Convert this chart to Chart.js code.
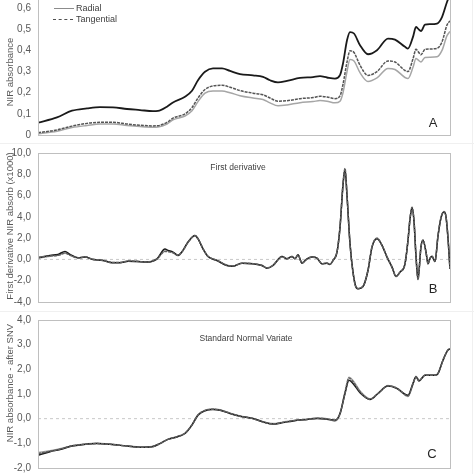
<!DOCTYPE html>
<html>
<head>
<meta charset="utf-8">
<script src="https://cdn.jsdelivr.net/npm/chart.js@4.4.1/dist/chart.umd.min.js"></script>
<style>
  html, body { margin: 0; padding: 0; background: #fff; }
  body { width: 474px; height: 474px; position: relative; overflow: hidden; font-family: "Liberation Sans", Arial, sans-serif; }
  .panel { position: absolute; left: 0; width: 474px; }
  .ytitle { position: absolute; white-space: nowrap; font-size: 9.5px; color: #595959; transform: translate(-50%, -50%) rotate(-90deg); }
  .ptitle { position: absolute; white-space: nowrap; font-size: 8.5px; color: #404040; transform: translate(-50%, -50%); }
  .letter { position: absolute; font-size: 13px; color: #262626; transform: translate(-50%, -50%); }
  .leg { position: absolute; font-size: 9px; color: #404040; white-space: nowrap; transform: translateY(-50%); }
  .legline { position: absolute; width: 20px; height: 0; }
  .sep { position: absolute; background: #f0f0f0; }
</style>
</head>
<body>

<div class="sep" style="left:0; top:143px; width:474px; height:1px;"></div>
<div class="sep" style="left:0; top:311px; width:474px; height:1px;"></div>
<div class="sep" style="left:472px; top:0; width:1px; height:474px;"></div>

<div class="panel" style="top:-21px; height:164px;"><canvas id="chartA"></canvas></div>
<div class="panel" style="top:145px; height:165px;"><canvas id="chartB"></canvas></div>
<div class="panel" style="top:312px; height:164px;"><canvas id="chartC"></canvas></div>

<!-- axis titles -->
<div class="ytitle" style="left:9px; top:72px;">NIR absorbance</div>
<div class="ytitle" style="left:9px; top:226px;">First derivative NIR absorb (x1000)</div>
<div class="ytitle" style="left:9px; top:383px;">NIR absorbance - after SNV</div>

<!-- titles inside the plots -->
<div class="ptitle" style="left:238px; top:167px;">First derivative</div>
<div class="ptitle" style="left:246px; top:338px;">Standard Normal Variate</div>

<div class="letter" style="left:433px; top:122px;">A</div>
<div class="letter" style="left:433px; top:288px;">B</div>
<div class="letter" style="left:432px; top:453px;">C</div>

<!-- legend (first entry is cut by the top edge) -->
<div class="legline" style="left:54px; top:-3px; border-top:1.8px solid #1a1a1a;"></div>
<div class="leg" style="left:76px; top:-4px;">Transversal</div>
<div class="legline" style="left:54px; top:8px; border-top:1.5px solid #8c8c8c;"></div>
<div class="leg" style="left:76px; top:8px;">Radial</div>
<div class="legline" style="left:53px; top:19px; border-top:1.5px dashed #505050;"></div>
<div class="leg" style="left:76px; top:19px;">Tangential</div>

<script>
// Spectra: three wood faces

// ---- Panel A : raw NIR absorbance ----
const posA = [0,19,34,49,62,75,89,102,115,120,129,135,147,154,160,167,175,184,192,202,215,225,232,240,249,262,275,282,289,297,302,305,309,312,316,322,330,339,350,357,367,370,375,378,380,383,387,392,399,404,409,412];
const transA = [0.058,0.083,0.115,0.126,0.132,0.131,0.123,0.118,0.113,0.114,0.134,0.154,0.181,0.209,0.259,0.299,0.315,0.315,0.303,0.288,0.282,0.275,0.259,0.249,0.256,0.270,0.274,0.278,0.272,0.267,0.283,0.338,0.448,0.487,0.480,0.425,0.382,0.401,0.456,0.451,0.417,0.409,0.464,0.511,0.503,0.492,0.522,0.524,0.527,0.558,0.629,0.665];
const tangA = [0.011,0.024,0.042,0.055,0.060,0.060,0.052,0.046,0.043,0.044,0.060,0.080,0.100,0.130,0.175,0.215,0.232,0.235,0.226,0.210,0.198,0.190,0.175,0.160,0.162,0.172,0.177,0.183,0.180,0.172,0.185,0.240,0.345,0.398,0.390,0.330,0.282,0.300,0.350,0.345,0.305,0.300,0.360,0.405,0.395,0.380,0.405,0.407,0.410,0.440,0.520,0.540];
const radA = [0.006,0.018,0.035,0.045,0.052,0.052,0.045,0.040,0.037,0.038,0.052,0.072,0.090,0.115,0.158,0.198,0.208,0.208,0.200,0.186,0.175,0.168,0.152,0.138,0.142,0.153,0.158,0.163,0.160,0.152,0.160,0.200,0.300,0.357,0.350,0.295,0.253,0.270,0.315,0.310,0.272,0.267,0.320,0.362,0.355,0.345,0.367,0.368,0.370,0.400,0.470,0.490];

// ---- Panel B : first derivative (x1000) ----
const posB = [0,12,20,27,32,40,47,55,65,74,82,90,99,109,119,127,130,135,140,145,150,157,160,165,170,179,189,195,204,215,224,229,235,244,249,254,257,260,264,269,274,279,284,289,292,295,299,302,305,307,309,312,315,318,320,325,330,334,339,344,349,354,358,362,367,370,372,374,376,378,380,383,385,388,390,392,394,397,400,403,406,408,410,412];
const transB = [0.16,0.38,0.47,0.75,0.47,0.16,0.22,0.00,-0.10,-0.31,-0.31,-0.16,-0.19,-0.25,0.06,0.97,0.85,0.69,0.38,0.85,1.64,2.26,1.95,1.00,0.28,-0.10,-0.57,-0.63,-0.35,-0.41,-0.57,-0.82,-0.57,0.28,0.06,0.28,0.06,0.44,-0.35,0.06,0.22,0.13,-0.41,-0.35,-0.47,-0.10,0.69,3.00,7.00,8.50,6.00,1.50,-1.20,-2.60,-2.75,-2.55,-1.04,1.16,1.95,1.32,0.22,-0.72,-1.60,-1.19,-0.41,1.80,3.80,4.85,3.60,0.30,-1.85,1.20,1.80,0.70,-0.40,0.10,0.30,-0.20,2.20,3.90,4.45,4.00,2.00,-0.90];
const radB = [0.10,0.30,0.40,0.60,0.42,0.16,0.22,0.00,-0.10,-0.28,-0.30,-0.16,-0.19,-0.25,0.04,0.80,0.78,0.66,0.40,0.85,1.62,2.24,1.95,1.00,0.28,-0.10,-0.57,-0.63,-0.35,-0.41,-0.57,-0.80,-0.57,0.28,0.06,0.28,0.06,0.40,-0.32,0.06,0.22,0.13,-0.41,-0.35,-0.47,-0.10,0.69,3.00,7.00,8.45,6.00,1.50,-1.20,-2.60,-2.75,-2.55,-1.04,1.16,1.98,1.32,0.22,-0.72,-1.60,-1.19,-0.41,1.80,3.80,4.85,3.60,0.30,-1.85,1.20,1.80,0.70,-0.40,0.10,0.30,-0.20,2.20,3.90,4.45,4.00,2.00,-0.90];
const tangB = [0.20,0.32,0.38,0.58,0.40,0.14,0.24,0.02,-0.08,-0.30,-0.30,-0.15,-0.18,-0.24,0.05,0.75,0.72,0.62,0.38,0.84,1.60,2.22,1.93,1.00,0.30,-0.08,-0.55,-0.62,-0.35,-0.40,-0.57,-0.80,-0.55,0.26,0.06,0.26,0.06,0.42,-0.33,0.05,0.20,0.12,-0.40,-0.34,-0.45,-0.08,0.70,3.05,7.10,8.55,6.05,1.45,-1.25,-2.62,-2.75,-2.52,-1.00,1.18,2.00,1.34,0.24,-0.70,-1.58,-1.18,-0.40,1.82,3.85,4.90,3.62,0.28,-1.88,1.22,1.82,0.70,-0.42,0.10,0.30,-0.18,2.25,3.95,4.50,4.02,1.95,-0.95];

// ---- Panel C : after SNV ----
const posC = [0,12,22,34,45,59,72,89,102,114,122,130,139,147,154,160,167,175,182,192,202,215,225,235,245,255,269,279,289,297,302,307,311,315,322,332,340,350,359,367,370,375,378,381,387,397,400,405,410,412];
const transC = [-1.48,-1.34,-1.25,-1.11,-1.05,-1.01,-1.04,-1.11,-1.16,-1.14,-1.01,-0.84,-0.74,-0.60,-0.26,0.14,0.32,0.37,0.34,0.21,0.10,0.01,-0.13,-0.22,-0.16,-0.09,-0.03,0.01,-0.02,-0.06,0.21,1.02,1.56,1.43,1.05,0.78,1.02,1.32,1.22,0.99,0.95,1.43,1.70,1.53,1.76,1.76,1.83,2.37,2.78,2.82];
const radC = [-1.38,-1.30,-1.22,-1.10,-1.04,-1.00,-1.03,-1.10,-1.15,-1.13,-1.00,-0.83,-0.73,-0.58,-0.24,0.16,0.34,0.39,0.36,0.22,0.11,0.01,-0.12,-0.20,-0.14,-0.08,-0.02,0.03,0.00,-0.09,0.18,1.08,1.68,1.55,1.12,0.80,1.03,1.34,1.24,0.96,0.90,1.40,1.72,1.55,1.77,1.77,1.84,2.38,2.80,2.84];
const tangC = [-1.42,-1.32,-1.24,-1.10,-1.05,-1.01,-1.04,-1.11,-1.16,-1.14,-1.01,-0.84,-0.74,-0.59,-0.25,0.15,0.33,0.38,0.35,0.22,0.10,0.00,-0.14,-0.21,-0.15,-0.08,-0.03,0.02,-0.01,-0.08,0.20,1.05,1.65,1.50,1.10,0.79,1.02,1.33,1.23,0.97,0.92,1.42,1.70,1.54,1.76,1.76,1.83,2.37,2.79,2.83];

Chart.defaults.font.family = '"Liberation Sans", Arial, sans-serif';
Chart.defaults.animation = false;

// grey box round the plot area
const boxPlugin = {
  id: 'box',
  afterDraw(chart) {
    const a = chart.chartArea;
    const ctx = chart.ctx;
    ctx.save();
    ctx.strokeStyle = '#bfbfbf';
    ctx.lineWidth = 1;
    ctx.strokeRect(Math.round(a.left) + 0.5, Math.round(a.top) + 0.5, Math.round(a.right - a.left), Math.round(a.bottom - a.top));
    ctx.restore();
  }
};

function toPoints(xs, ys) {
  return xs.map((x, i) => ({ x: x, y: ys[i] }));
}

function zeroLine() {
  return {
    data: [{ x: 0, y: 0 }, { x: 412, y: 0 }],
    borderColor: '#c8c8c8', borderWidth: 1, borderDash: [3, 3], order: 10
  };
}

function makeChart(id, datasets, yMin, yMax, step, fmt) {
  return new Chart(document.getElementById(id), {
    type: 'line',
    data: { datasets: datasets },
    options: {
      responsive: true,
      maintainAspectRatio: false,
      layout: { padding: { left: 0, right: 24, top: 8, bottom: 8 } },
      elements: { point: { radius: 0 }, line: { cubicInterpolationMode: 'monotone', fill: false } },
      plugins: { legend: { display: false }, tooltip: { enabled: false } },
      scales: {
        x: { type: 'linear', min: 0, max: 412, display: false },
        y: {
          min: yMin, max: yMax,
          grid: { display: false, drawTicks: false },
          border: { display: false },
          ticks: { stepSize: step, padding: 7, color: '#595959', font: { size: 10 }, callback: fmt },
          // fixed axis width, and no extra label padding so the plot box lands where we want
          afterFit: s => { s.width = 38; s.paddingTop = 0; s.paddingBottom = 0; }
        }
      }
    },
    plugins: [boxPlugin]
  });
}

const commaFmt = v => v.toFixed(1).replace('.', ',');

makeChart('chartA', [
  { data: toPoints(posA, transA), borderColor: '#1a1a1a', borderWidth: 1.8, order: 1 },
  { data: toPoints(posA, tangA), borderColor: '#555555', borderWidth: 1.5, borderDash: [3, 1], order: 2 },
  { data: toPoints(posA, radA), borderColor: '#a6a6a6', borderWidth: 1.5, order: 3 }
], 0, 0.7, 0.1, v => Math.abs(v) < 1e-9 ? '0' : commaFmt(v));

makeChart('chartB', [
  zeroLine(),
  { data: toPoints(posB, radB), borderColor: '#a6a6a6', borderWidth: 1.5, order: 3 },
  { data: toPoints(posB, transB), borderColor: '#1a1a1a', borderWidth: 1.5, order: 2 },
  { data: toPoints(posB, tangB), borderColor: '#606060', borderWidth: 1.5, borderDash: [3, 1], order: 1 }
], -4, 10, 2, commaFmt);

makeChart('chartC', [
  zeroLine(),
  { data: toPoints(posC, radC), borderColor: '#a6a6a6', borderWidth: 1.5, order: 3 },
  { data: toPoints(posC, transC), borderColor: '#1a1a1a', borderWidth: 1.5, order: 2 },
  { data: toPoints(posC, tangC), borderColor: '#606060', borderWidth: 1.5, borderDash: [3, 1], order: 1 }
], -2, 4, 1, commaFmt);
</script>
</body>
</html>
